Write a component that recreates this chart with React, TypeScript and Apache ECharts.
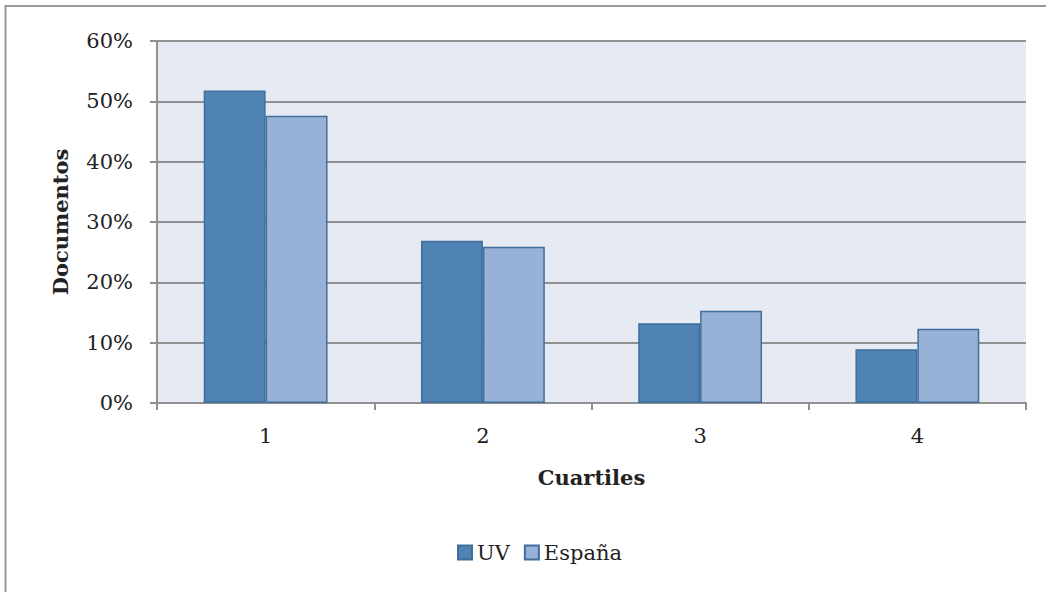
import React, { useEffect, useRef } from "react";
import * as echarts from "echarts";

const categories = ["1", "2", "3", "4"];
const uvValues = [51.8, 26.9, 13.2, 8.9];
const espanaValues = [47.6, 25.9, 15.3, 12.3];
const seriesNames = ["UV", "España"];

const FONT = "DejaVu Serif";
const FS = 21;

export default function App() {
  const ref = useRef<HTMLDivElement>(null);
  useEffect(() => {
    document.body.style.margin = "0";
    const chart = echarts.init(ref.current!, null, { renderer: "svg" });
    chart.setOption({
      animation: false,
      textStyle: { fontFamily: FONT },
      graphic: [
        {
          type: "rect",
          shape: { x: 5.5, y: 6, width: 1200, height: 800 },
          style: { fill: "none", stroke: "#9a9a9a", lineWidth: 2 },
          silent: true,
        },
      ],
      grid: {
        left: 157,
        top: 41,
        right: 20,
        bottom: 189,
        show: true,
        backgroundColor: "#e6eaf2",
        borderWidth: 0,
      },
      legend: {
        bottom: 24,
        left: 452,
        itemWidth: 14,
        itemHeight: 14,
        itemGap: 14,
        icon: "rect",
        textStyle: { fontFamily: FONT, fontSize: FS, color: "#222" },
        data: seriesNames,
      },
      xAxis: {
        type: "category",
        data: categories,
        name: "Cuartiles",
        nameLocation: "middle",
        nameGap: 64,
        nameTextStyle: { fontFamily: FONT, fontSize: FS, fontWeight: "bold", color: "#222" },
        axisLine: { lineStyle: { color: "#909090", width: 2 } },
        axisTick: { show: true, length: 7, lineStyle: { color: "#909090", width: 2 } },
        axisLabel: { fontFamily: FONT, fontSize: FS, color: "#222", margin: 22 },
      },
      yAxis: {
        type: "value",
        min: 0,
        max: 60,
        interval: 10,
        name: "Documentos",
        nameLocation: "middle",
        nameGap: 86,
        nameRotate: 90,
        nameTextStyle: { fontFamily: FONT, fontSize: FS, fontWeight: "bold", color: "#222" },
        axisLine: { show: true, lineStyle: { color: "#909090", width: 2 } },
        axisTick: { show: true, length: 7, lineStyle: { color: "#909090", width: 2 } },
        axisLabel: { fontFamily: FONT, fontSize: FS, color: "#222", margin: 24, formatter: "{value}%" },
        splitLine: { show: true, lineStyle: { color: "#909090", width: 2 } },
      },
      series: [
        {
          name: seriesNames[0],
          type: "bar",
          data: uvValues,
          barGap: "0%",
          barCategoryGap: "43%",
          itemStyle: { color: "#4f83b3", borderColor: "#3f6e9c", borderWidth: 1.5 },
        },
        {
          name: seriesNames[1],
          type: "bar",
          data: espanaValues,
          itemStyle: { color: "#97b2d6", borderColor: "#3f6e9c", borderWidth: 1.5 },
        },
      ],
    });
    return () => chart.dispose();
  }, []);
  return <div ref={ref} style={{ position: "absolute", left: 0, top: 0, width: 1046, height: 592 }} />;
}
